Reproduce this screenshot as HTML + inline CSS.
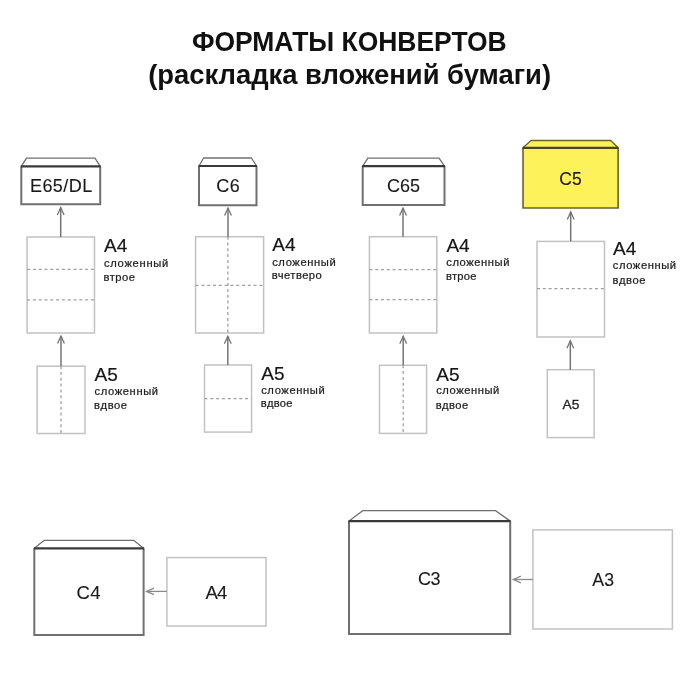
<!DOCTYPE html>
<html><head><meta charset="utf-8"><style>
html,body{margin:0;padding:0;background:#fff;width:700px;height:700px;overflow:hidden}
svg{display:block;filter:blur(0.5px)}
text{font-family:"Liberation Sans", sans-serif}
</style></head><body>
<svg width="700" height="700" viewBox="0 0 700 700">
<rect width="700" height="700" fill="#fff"/>
<path d="M21.3 166.3 L26.5 158.1 L95.0 158.1 L100.2 166.3" fill="#fff" stroke="#707070" stroke-width="1.3" stroke-linejoin="round"/>
<path d="M21.3 166.3 L21.3 204.2 L100.2 204.2 L100.2 166.3" fill="#fff" stroke="#707070" stroke-width="2.0"/>
<line x1="20.8" y1="166.3" x2="100.7" y2="166.3" stroke="#3a3a3a" stroke-width="2.2"/>
<rect x="27.1" y="237.0" width="67.40" height="96.00" fill="#fff" stroke="#c2c2c2" stroke-width="1.5"/>
<line x1="27.1" y1="269.4" x2="94.5" y2="269.4" stroke="#a0a0a0" stroke-width="1.3" stroke-dasharray="3 2.8"/>
<line x1="27.1" y1="299.8" x2="94.5" y2="299.8" stroke="#a0a0a0" stroke-width="1.3" stroke-dasharray="3 2.8"/>
<rect x="37.1" y="366.2" width="47.90" height="67.30" fill="#fff" stroke="#c2c2c2" stroke-width="1.5"/>
<line x1="61.0" y1="366.2" x2="61.0" y2="433.5" stroke="#a0a0a0" stroke-width="1.3" stroke-dasharray="3 2.8"/>
<line x1="60.7" y1="207.6" x2="60.7" y2="237.0" stroke="#747474" stroke-width="1.5"/>
<path d="M57.300000000000004 215.1 L60.7 207.6 L64.10000000000001 215.1" fill="none" stroke="#747474" stroke-width="1.3"/>
<line x1="61.0" y1="336.0" x2="61.0" y2="366.2" stroke="#747474" stroke-width="1.5"/>
<path d="M57.6 343.5 L61.0 336.0 L64.4 343.5" fill="none" stroke="#747474" stroke-width="1.3"/>
<path d="M199.0 166.0 L203.6 158.0 L251.5 158.0 L256.5 166.0" fill="#fff" stroke="#707070" stroke-width="1.3" stroke-linejoin="round"/>
<path d="M199.0 166.0 L199.0 205.2 L256.5 205.2 L256.5 166.0" fill="#fff" stroke="#707070" stroke-width="2.0"/>
<line x1="198.5" y1="166.0" x2="257.0" y2="166.0" stroke="#3a3a3a" stroke-width="2.2"/>
<rect x="195.6" y="236.7" width="68.00" height="96.30" fill="#fff" stroke="#c2c2c2" stroke-width="1.5"/>
<line x1="195.6" y1="285.4" x2="263.6" y2="285.4" stroke="#a0a0a0" stroke-width="1.3" stroke-dasharray="3 2.8"/>
<line x1="227.9" y1="236.7" x2="227.9" y2="333.0" stroke="#a0a0a0" stroke-width="1.3" stroke-dasharray="3 2.8"/>
<rect x="204.5" y="365.0" width="47.10" height="67.10" fill="#fff" stroke="#c2c2c2" stroke-width="1.5"/>
<line x1="204.5" y1="398.6" x2="251.6" y2="398.6" stroke="#a0a0a0" stroke-width="1.3" stroke-dasharray="3 2.8"/>
<line x1="228.0" y1="208.1" x2="228.0" y2="236.7" stroke="#747474" stroke-width="1.5"/>
<path d="M224.6 215.6 L228.0 208.1 L231.4 215.6" fill="none" stroke="#747474" stroke-width="1.3"/>
<line x1="227.8" y1="336.2" x2="227.8" y2="365.0" stroke="#747474" stroke-width="1.5"/>
<path d="M224.4 343.7 L227.8 336.2 L231.20000000000002 343.7" fill="none" stroke="#747474" stroke-width="1.3"/>
<path d="M362.7 166.1 L367.9 158.2 L439.0 158.2 L444.5 166.1" fill="#fff" stroke="#707070" stroke-width="1.3" stroke-linejoin="round"/>
<path d="M362.7 166.1 L362.7 205.0 L444.5 205.0 L444.5 166.1" fill="#fff" stroke="#707070" stroke-width="2.0"/>
<line x1="362.2" y1="166.1" x2="445.0" y2="166.1" stroke="#3a3a3a" stroke-width="2.2"/>
<rect x="369.4" y="236.7" width="67.40" height="96.30" fill="#fff" stroke="#c2c2c2" stroke-width="1.5"/>
<line x1="369.4" y1="269.6" x2="436.8" y2="269.6" stroke="#a0a0a0" stroke-width="1.3" stroke-dasharray="3 2.8"/>
<line x1="369.4" y1="299.6" x2="436.8" y2="299.6" stroke="#a0a0a0" stroke-width="1.3" stroke-dasharray="3 2.8"/>
<rect x="379.5" y="365.3" width="47.10" height="68.10" fill="#fff" stroke="#c2c2c2" stroke-width="1.5"/>
<line x1="403.2" y1="365.3" x2="403.2" y2="433.4" stroke="#a0a0a0" stroke-width="1.3" stroke-dasharray="3 2.8"/>
<line x1="403.0" y1="208.0" x2="403.0" y2="236.7" stroke="#747474" stroke-width="1.5"/>
<path d="M399.6 215.5 L403.0 208.0 L406.4 215.5" fill="none" stroke="#747474" stroke-width="1.3"/>
<line x1="403.2" y1="336.2" x2="403.2" y2="365.3" stroke="#747474" stroke-width="1.5"/>
<path d="M399.8 343.7 L403.2 336.2 L406.59999999999997 343.7" fill="none" stroke="#747474" stroke-width="1.3"/>
<path d="M523.0 147.8 L531.0 140.5 L610.7 140.5 L618.1 147.8" fill="#fef25a" stroke="#6a6230" stroke-width="1.3" stroke-linejoin="round"/>
<path d="M523.0 147.8 L523.0 208.0 L618.1 208.0 L618.1 147.8" fill="#fef25a" stroke="#6a6230" stroke-width="1.6"/>
<line x1="522.5" y1="147.8" x2="618.6" y2="147.8" stroke="#4a441f" stroke-width="2.2"/>
<rect x="537.0" y="241.4" width="67.50" height="95.60" fill="#fff" stroke="#c2c2c2" stroke-width="1.5"/>
<line x1="537.0" y1="288.6" x2="604.5" y2="288.6" stroke="#a0a0a0" stroke-width="1.3" stroke-dasharray="3 2.8"/>
<rect x="547.3" y="369.7" width="46.80" height="67.90" fill="#fff" stroke="#c2c2c2" stroke-width="1.5"/>
<line x1="570.7" y1="211.9" x2="570.7" y2="241.4" stroke="#747474" stroke-width="1.5"/>
<path d="M567.3000000000001 219.4 L570.7 211.9 L574.1 219.4" fill="none" stroke="#747474" stroke-width="1.3"/>
<line x1="570.3" y1="340.7" x2="570.3" y2="369.7" stroke="#747474" stroke-width="1.5"/>
<path d="M566.9 348.2 L570.3 340.7 L573.6999999999999 348.2" fill="none" stroke="#747474" stroke-width="1.3"/>
<path d="M34.3 548.3 L44.3 540.3 L133.6 540.3 L143.6 548.3" fill="#fff" stroke="#707070" stroke-width="1.3" stroke-linejoin="round"/>
<path d="M34.3 548.3 L34.3 634.9 L143.6 634.9 L143.6 548.3" fill="#fff" stroke="#707070" stroke-width="2.0"/>
<line x1="33.8" y1="548.3" x2="144.1" y2="548.3" stroke="#3a3a3a" stroke-width="2.2"/>
<rect x="166.9" y="557.6" width="99.10" height="68.40" fill="#fff" stroke="#c2c2c2" stroke-width="1.5"/>
<line x1="146.5" y1="591.4" x2="166.9" y2="591.4" stroke="#8a8a8a" stroke-width="1.3"/>
<path d="M154.0 588.1 L146.5 591.4 L154.0 594.6999999999999" fill="none" stroke="#8a8a8a" stroke-width="1.3"/>
<path d="M349.0 521.1 L362.7 510.7 L495.7 510.7 L510.2 521.1" fill="#fff" stroke="#707070" stroke-width="1.3" stroke-linejoin="round"/>
<path d="M349.0 521.1 L349.0 634.0 L510.2 634.0 L510.2 521.1" fill="#fff" stroke="#707070" stroke-width="2.0"/>
<line x1="348.5" y1="521.1" x2="510.7" y2="521.1" stroke="#3a3a3a" stroke-width="2.2"/>
<rect x="532.9" y="529.9" width="139.50" height="99.10" fill="#fff" stroke="#c2c2c2" stroke-width="1.5"/>
<line x1="513.4" y1="579.5" x2="532.9" y2="579.5" stroke="#8a8a8a" stroke-width="1.3"/>
<path d="M520.9 576.2 L513.4 579.5 L520.9 582.8" fill="none" stroke="#8a8a8a" stroke-width="1.3"/>
<text transform="translate(191.91 50.7) scale(0.9799 1)" font-size="27" font-weight="bold" fill="#111">ФОРМАТЫ КОНВЕРТОВ</text>
<text transform="translate(148.13 83.5) scale(1.0153 1)" font-size="27" font-weight="bold" fill="#111">(раскладка вложений бумаги)</text>
<text transform="translate(104.10 252.3) scale(1.0000 1)" font-size="19" font-weight="normal" fill="#151515" stroke="#151515" stroke-width="0.2">А4</text>
<text transform="translate(103.95 266.9) scale(1.0000 1)" font-size="11.2" font-weight="normal" fill="#1e1e1e" stroke="#1e1e1e" stroke-width="0.24" letter-spacing="0.704">сложенный</text>
<text transform="translate(103.62 280.6) scale(1.0000 1)" font-size="11.2" font-weight="normal" fill="#1e1e1e" stroke="#1e1e1e" stroke-width="0.24" letter-spacing="0.444">втрое</text>
<text transform="translate(94.60 381.1) scale(1.0000 1)" font-size="19" font-weight="normal" fill="#151515" stroke="#151515" stroke-width="0.2">А5</text>
<text transform="translate(94.45 394.9) scale(1.0000 1)" font-size="11.2" font-weight="normal" fill="#1e1e1e" stroke="#1e1e1e" stroke-width="0.24" letter-spacing="0.617">сложенный</text>
<text transform="translate(94.12 409.1) scale(1.0000 1)" font-size="11.2" font-weight="normal" fill="#1e1e1e" stroke="#1e1e1e" stroke-width="0.24" letter-spacing="0.589">вдвое</text>
<text transform="translate(272.30 250.9) scale(1.0000 1)" font-size="19" font-weight="normal" fill="#151515" stroke="#151515" stroke-width="0.2">А4</text>
<text transform="translate(272.15 265.7) scale(1.0000 1)" font-size="11.2" font-weight="normal" fill="#1e1e1e" stroke="#1e1e1e" stroke-width="0.24" letter-spacing="0.617">сложенный</text>
<text transform="translate(271.82 279.4) scale(1.0000 1)" font-size="11.2" font-weight="normal" fill="#1e1e1e" stroke="#1e1e1e" stroke-width="0.24" letter-spacing="0.459">вчетверо</text>
<text transform="translate(261.30 380.0) scale(1.0000 1)" font-size="19" font-weight="normal" fill="#151515" stroke="#151515" stroke-width="0.2">А5</text>
<text transform="translate(261.15 393.7) scale(1.0000 1)" font-size="11.2" font-weight="normal" fill="#1e1e1e" stroke="#1e1e1e" stroke-width="0.24" letter-spacing="0.617">сложенный</text>
<text transform="translate(260.82 406.9) scale(1.0000 1)" font-size="11.2" font-weight="normal" fill="#1e1e1e" stroke="#1e1e1e" stroke-width="0.24" letter-spacing="0.289">вдвое</text>
<text transform="translate(446.40 252.3) scale(1.0000 1)" font-size="19" font-weight="normal" fill="#151515" stroke="#151515" stroke-width="0.2">А4</text>
<text transform="translate(446.25 266.3) scale(1.0000 1)" font-size="11.2" font-weight="normal" fill="#1e1e1e" stroke="#1e1e1e" stroke-width="0.24" letter-spacing="0.554">сложенный</text>
<text transform="translate(445.92 280.0) scale(1.0000 1)" font-size="11.2" font-weight="normal" fill="#1e1e1e" stroke="#1e1e1e" stroke-width="0.24" letter-spacing="0.294">втрое</text>
<text transform="translate(436.30 381.1) scale(1.0000 1)" font-size="19" font-weight="normal" fill="#151515" stroke="#151515" stroke-width="0.2">А5</text>
<text transform="translate(436.15 394.3) scale(1.0000 1)" font-size="11.2" font-weight="normal" fill="#1e1e1e" stroke="#1e1e1e" stroke-width="0.24" letter-spacing="0.554">сложенный</text>
<text transform="translate(435.82 408.6) scale(1.0000 1)" font-size="11.2" font-weight="normal" fill="#1e1e1e" stroke="#1e1e1e" stroke-width="0.24" letter-spacing="0.439">вдвое</text>
<text transform="translate(613.00 255.0) scale(1.0000 1)" font-size="19" font-weight="normal" fill="#151515" stroke="#151515" stroke-width="0.2">А4</text>
<text transform="translate(612.85 269.3) scale(1.0000 1)" font-size="11.2" font-weight="normal" fill="#1e1e1e" stroke="#1e1e1e" stroke-width="0.24" letter-spacing="0.554">сложенный</text>
<text transform="translate(612.52 283.6) scale(1.0000 1)" font-size="11.2" font-weight="normal" fill="#1e1e1e" stroke="#1e1e1e" stroke-width="0.24" letter-spacing="0.589">вдвое</text>
<text transform="translate(29.96 191.7) scale(1.0000 1)" font-size="18" font-weight="normal" fill="#1a1a1a" stroke="#1a1a1a" stroke-width="0.12" letter-spacing="0.428">E65/DL</text>
<text transform="translate(216.30 192.0) scale(1.0000 1)" font-size="18" font-weight="normal" fill="#1a1a1a" stroke="#1a1a1a" stroke-width="0.12" letter-spacing="0.560">C6</text>
<text transform="translate(386.90 192.4) scale(1.0000 1)" font-size="18" font-weight="normal" fill="#1a1a1a" stroke="#1a1a1a" stroke-width="0.12">C65</text>
<text transform="translate(559.23 184.7) scale(1.0000 1)" font-size="17.5" font-weight="normal" fill="#1a1a1a" stroke="#1a1a1a" stroke-width="0.12" letter-spacing="0.075">C5</text>
<text transform="translate(76.58 598.9) scale(1.0000 1)" font-size="18.5" font-weight="normal" fill="#1a1a1a" stroke="#1a1a1a" stroke-width="0.12" letter-spacing="0.300">C4</text>
<text transform="translate(205.50 598.9) scale(1.0000 1)" font-size="18.5" font-weight="normal" fill="#1a1a1a" stroke="#1a1a1a" stroke-width="0.12" letter-spacing="-0.800">А4</text>
<text transform="translate(418.00 585.1) scale(1.0000 1)" font-size="18" font-weight="normal" fill="#1a1a1a" stroke="#1a1a1a" stroke-width="0.12" letter-spacing="-0.440">C3</text>
<text transform="translate(592.20 586.0) scale(1.0000 1)" font-size="17.7" font-weight="normal" fill="#1a1a1a" stroke="#1a1a1a" stroke-width="0.12" letter-spacing="0.314">А3</text>
<text transform="translate(562.60 408.8) scale(1.0601 1)" font-size="13" font-weight="normal" fill="#222" stroke="#222" stroke-width="0.3">А5</text>
</svg>
</body></html>
